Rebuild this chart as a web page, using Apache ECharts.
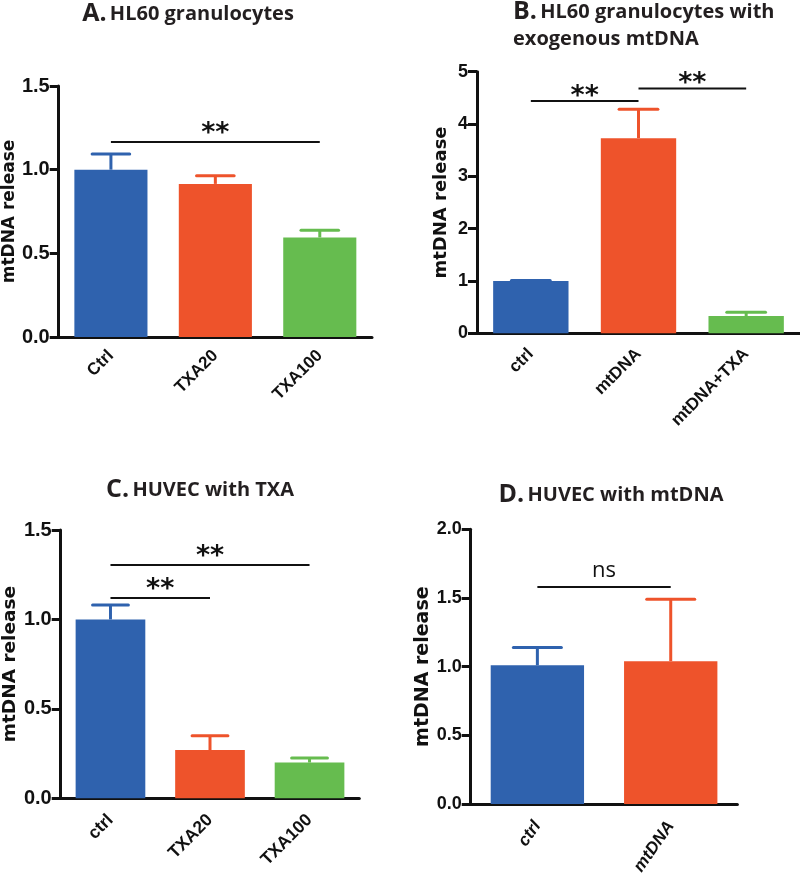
<!DOCTYPE html>
<html>
<head>
<meta charset="utf-8">
<script src="https://cdn.jsdelivr.net/npm/echarts@6/dist/echarts.min.js"></script>
<style>html,body{margin:0;padding:0;background:#fff}#c{width:800px;height:880px}</style>
</head>
<body>
<div id="c"></div>
<script>
// ---- data ----
const catsA = ['Ctrl', 'TXA20', 'TXA100'];
const meanA = [1.0, 0.915, 0.595];
const semA = [0.093, 0.048, 0.043];
const sigLinesA = [[0, 2, 1.165]];
const sigTextA = ['**'];

const catsB = ['ctrl', 'mtDNA', 'mtDNA+TXA'];
const meanB = [1.0, 3.73, 0.33];
const semB = [0.01, 0.55, 0.07];
const sigLinesB = [[0, 1, 4.44], [1, 2, 4.68]];
const sigTextB = ['**', '**'];

const catsC = ['ctrl', 'TXA20', 'TXA100'];
const meanC = [1.0, 0.27, 0.20];
const semC = [0.08, 0.08, 0.025];
const sigLinesC = [[0, 2, 1.305], [0, 1, 1.12]];
const sigTextC = ['**', '**'];

const catsD = ['ctrl', 'mtDNA'];
const meanD = [1.01, 1.04];
const semD = [0.13, 0.45];
const sigLinesD = [[0, 1, 1.58]];
const sigTextD = ['ns'];

const yTicksA = [0, 1.5, 0.5];
const yTicksB = [0, 5, 1];
const yTicksC = [0, 1.5, 0.5];
const yTicksD = [0, 2, 0.5];

// ---- styling ----
const colors = ['#2F62AE', '#EE532B', '#66BC4F'];
const tickFont = "'Liberation Sans Narrow', 'Arial Narrow', 'Liberation Sans', Arial, sans-serif";
const panels = [
  {cats: catsA, mean: meanA, sem: semA, sig: sigLinesA, sigText: sigTextA, ticks: yTicksA, dec: 1,
   grid: {left: 53.5, top: 86, width: 318.5, height: 251}, nameGap: 38, nameSize: 17, tickSize: 20,
   xSize: 17, xRot: 45, xMargin: 16, italic: false, sigOff: 14},
  {cats: catsB, mean: meanB, sem: semB, sig: sigLinesB, sigText: sigTextB, ticks: yTicksB, dec: 0,
   grid: {left: 477, top: 71.7, width: 323, height: 261.6}, nameGap: 27, nameSize: 18, tickSize: 18,
   xSize: 17, xRot: 45, xMargin: 18, italic: false, sigOff: 10},
  {cats: catsC, mean: meanC, sem: semC, sig: sigLinesC, sigText: sigTextC, ticks: yTicksC, dec: 1,
   grid: {left: 57.3, top: 530, width: 302, height: 268.3}, nameGap: 37, nameSize: 18.5, tickSize: 20,
   xSize: 17.5, xRot: 45, xMargin: 19, italic: false, sigOff: 14},
  {cats: catsD, mean: meanD, sem: semD, sig: sigLinesD, sigText: sigTextD, ticks: yTicksD, dec: 1,
   grid: {left: 470.7, top: 529.3, width: 266.7, height: 274.7}, nameGap: 33, nameSize: 19, tickSize: 18,
   xSize: 17, xRot: 55, xMargin: 19, italic: true, sigOff: 16}
];

const grids = [], xAxes = [], yAxes = [], series = [];
panels.forEach((p, i) => {
  grids.push(Object.assign({}, p.grid));
  xAxes.push({
    type: 'category', gridIndex: i, data: p.cats,
    axisLine: {lineStyle: {color: '#111', width: 3}},
    axisTick: {alignWithLabel: true, length: 10, lineStyle: {color: '#111', width: 3}},
    axisLabel: {rotate: p.xRot, margin: p.xMargin, color: '#111', fontSize: p.xSize, fontWeight: 'bold',
      fontStyle: p.italic ? 'italic' : 'normal', fontFamily: "'Liberation Sans', Arial, sans-serif"},
    splitLine: {show: false}
  });
  yAxes.push({
    type: 'value', gridIndex: i, min: p.ticks[0], max: p.ticks[1], interval: p.ticks[2],
    name: 'mtDNA release', nameLocation: 'middle', nameGap: p.nameGap,
    nameTextStyle: {fontSize: p.nameSize, fontWeight: 'bold', color: '#111', fontFamily: "'DejaVu Sans', sans-serif"},
    axisLine: {show: true, lineStyle: {color: '#111', width: 3}},
    axisTick: {show: true, length: 9, lineStyle: {color: '#111', width: 3}},
    axisLabel: {margin: 9, color: '#111', fontSize: p.tickSize, fontWeight: 'bold', fontFamily: tickFont,
      formatter: v => v.toFixed(p.dec)},
    splitLine: {show: false}
  });
  series.push({
    type: 'bar', xAxisIndex: i, yAxisIndex: i, barWidth: '70%', data: p.mean,
    itemStyle: {color: params => colors[params.dataIndex]}, z: 2, silent: true
  });
  series.push({
    type: 'custom', xAxisIndex: i, yAxisIndex: i, clip: false, silent: true, z: 3,
    data: p.mean.map((m, k) => [k, m, m + p.sem[k]]),
    encode: {x: 0, y: [1, 2]},
    renderItem: (params, api) => {
      const k = api.value(0);
      const a = api.coord([k, api.value(1)]);
      const b = api.coord([k, api.value(2)]);
      const hw = api.size([1, 0])[0] * 0.18;
      const c = colors[params.dataIndex];
      return {type: 'group', children: [
        {type: 'line', shape: {x1: a[0], y1: a[1], x2: b[0], y2: b[1]}, style: {stroke: c, lineWidth: 3}},
        {type: 'line', shape: {x1: b[0] - hw, y1: b[1], x2: b[0] + hw, y2: b[1]}, style: {stroke: c, lineWidth: 3, lineCap: 'round'}}
      ]};
    }
  });
  series.push({
    type: 'custom', xAxisIndex: i, yAxisIndex: i, clip: false, silent: true, z: 4,
    data: p.sig,
    encode: {x: [0, 1], y: 2},
    renderItem: (params, api) => {
      const a = api.coord([api.value(0), api.value(2)]);
      const b = api.coord([api.value(1), api.value(2)]);
      const t = p.sigText[params.dataIndex];
      const isStar = t.indexOf('*') >= 0;
      return {type: 'group', children: [
        {type: 'line', shape: {x1: a[0], y1: a[1], x2: b[0], y2: b[1]}, style: {stroke: '#111', lineWidth: 2}},
        {type: 'text', style: {text: t, x: (a[0] + b[0]) / 2, y: a[1] - p.sigOff + (isStar ? 6 : 0),
          align: 'center', verticalAlign: 'middle', fill: '#111',
          fontSize: isStar ? 27 : 22, fontWeight: isStar ? 'bold' : 'normal',
          fontFamily: isStar ? "'DejaVu Sans', sans-serif" : "'Open Sans', sans-serif"}}
      ]};
    }
  });
});

const titleFont = "'Open Sans', sans-serif";
const rich = {
  L: {fontSize: 25, fontWeight: 'bold', fontFamily: titleFont, fill: '#231f20', color: '#231f20'},
  T: {fontSize: 20, fontWeight: 'bold', fontFamily: titleFont, fill: '#231f20', color: '#231f20'}
};
const graphics = [
  {type: 'text', x: 188, y: 14, style: {text: '{L|A.} {T|HL60 granulocytes}', rich: rich, align: 'center', verticalAlign: 'middle'}},
  {type: 'text', x: 513, y: 12, style: {text: '{L|B.} {T|HL60 granulocytes with}', rich: rich, align: 'left', verticalAlign: 'middle'}},
  {type: 'text', x: 513, y: 39, style: {text: '{T|exogenous mtDNA}', rich: rich, align: 'left', verticalAlign: 'middle'}},
  {type: 'text', x: 200, y: 490, style: {text: '{L|C.} {T|HUVEC with TXA}', rich: rich, align: 'center', verticalAlign: 'middle'}},
  {type: 'text', x: 611, y: 495, style: {text: '{L|D.} {T|HUVEC with mtDNA}', rich: rich, align: 'center', verticalAlign: 'middle'}}
];

const chart = echarts.init(document.getElementById('c'), null, {renderer: 'canvas'});
chart.setOption({
  animation: false,
  backgroundColor: '#fff',
  grid: grids, xAxis: xAxes, yAxis: yAxes, series: series,
  graphic: graphics
});
</script>
</body>
</html>
